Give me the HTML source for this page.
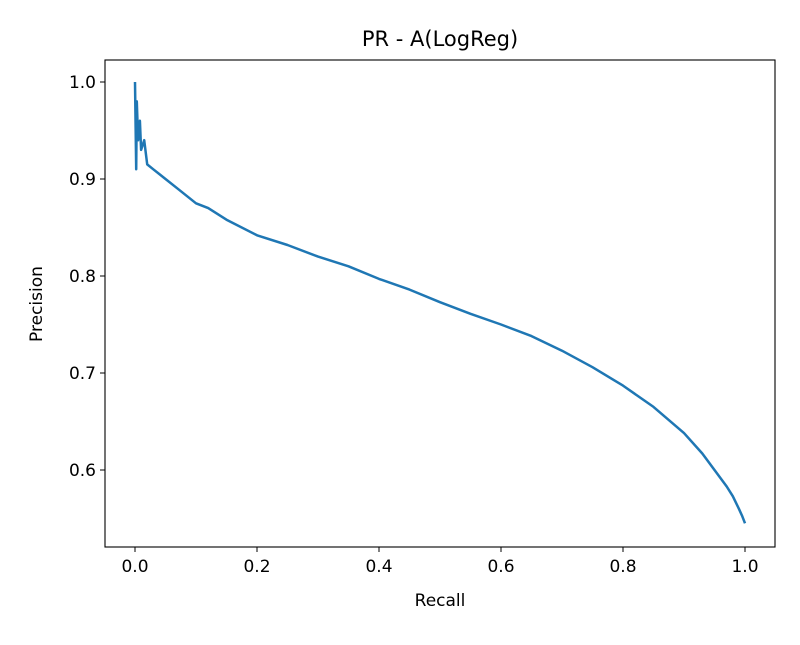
<!DOCTYPE html>
<html><head><meta charset="utf-8"><style>
body{margin:0;background:#fff;}
svg text{font-family:"DejaVu Sans","Liberation Sans",sans-serif;fill:#000;}
</style></head><body>
<svg width="800" height="640" xmlns="http://www.w3.org/2000/svg">
<rect width="800" height="640" fill="#fff"/>
<g id="plot"></g>
</svg>
<script>
const recall=[0,0.002,0.003,0.005,0.008,0.01,0.015,0.02,0.03,0.04,0.05,0.07,0.1,0.12,0.15,0.2,0.25,0.3,0.35,0.4,0.45,0.5,0.55,0.6,0.65,0.7,0.75,0.8,0.85,0.9,0.93,0.95,0.97,0.98,0.99,0.995,1.0];
const precision=[1.0,0.91,0.98,0.94,0.96,0.93,0.94,0.915,0.91,0.905,0.9,0.89,0.875,0.87,0.858,0.842,0.832,0.82,0.81,0.797,0.786,0.773,0.761,0.75,0.738,0.723,0.706,0.687,0.665,0.638,0.617,0.6,0.583,0.573,0.56,0.553,0.545];
const xTicks=[0,0.2,0.4,0.6,0.8,1.0];
const xTickLabels=["0.0","0.2","0.4","0.6","0.8","1.0"];
const yTicks=[0.6,0.7,0.8,0.9,1.0];
const yTickLabels=["0.6","0.7","0.8","0.9","1.0"];

const L=105,R=775,T=60,B=547;
const X=v=>135+v*610;
const Y=v=>470-(v-0.6)*970;
const NS="http://www.w3.org/2000/svg";
const g=document.getElementById('plot');
function el(t,a,txt){const e=document.createElementNS(NS,t);for(const k in a)e.setAttribute(k,a[k]);if(txt!==undefined)e.textContent=txt;g.appendChild(e);return e;}

let d=recall.map((r,i)=>(i?'L':'M')+X(r).toFixed(1)+' '+Y(precision[i]).toFixed(1)).join(' ');
const line=el('path',{d:d,fill:'none',stroke:'#1f77b4','stroke-width':2.5,'stroke-linejoin':'round'});



const frame=el('rect',{x:L,y:T,width:R-L,height:B-T,fill:'none',stroke:'#000','stroke-width':1.1});



xTicks.forEach((v,i)=>{
  const t=el('line',{x1:X(v),x2:X(v),y1:B,y2:B+5,stroke:'#000'});
  
  
  const l=el('text',{x:X(v),y:B+25,'text-anchor':'middle','font-size':17},xTickLabels[i]);
  
  
});
yTicks.forEach((v,i)=>{
  const t=el('line',{x1:L-5,x2:L,y1:Y(v),y2:Y(v),stroke:'#000'});
  
  
  const l=el('text',{x:L-9,y:Y(v)+6,'text-anchor':'end','font-size':17},yTickLabels[i]);
  
  
});
const title=el('text',{x:440,y:46,'text-anchor':'middle','font-size':21},'PR - A(LogReg)');


const xt=el('text',{x:440,y:606,'text-anchor':'middle','font-size':17},'Recall');


const yt=el('text',{x:42,y:304,'text-anchor':'middle','font-size':17,transform:'rotate(-90 42 304)'},'Precision');


</script>
</body></html>
